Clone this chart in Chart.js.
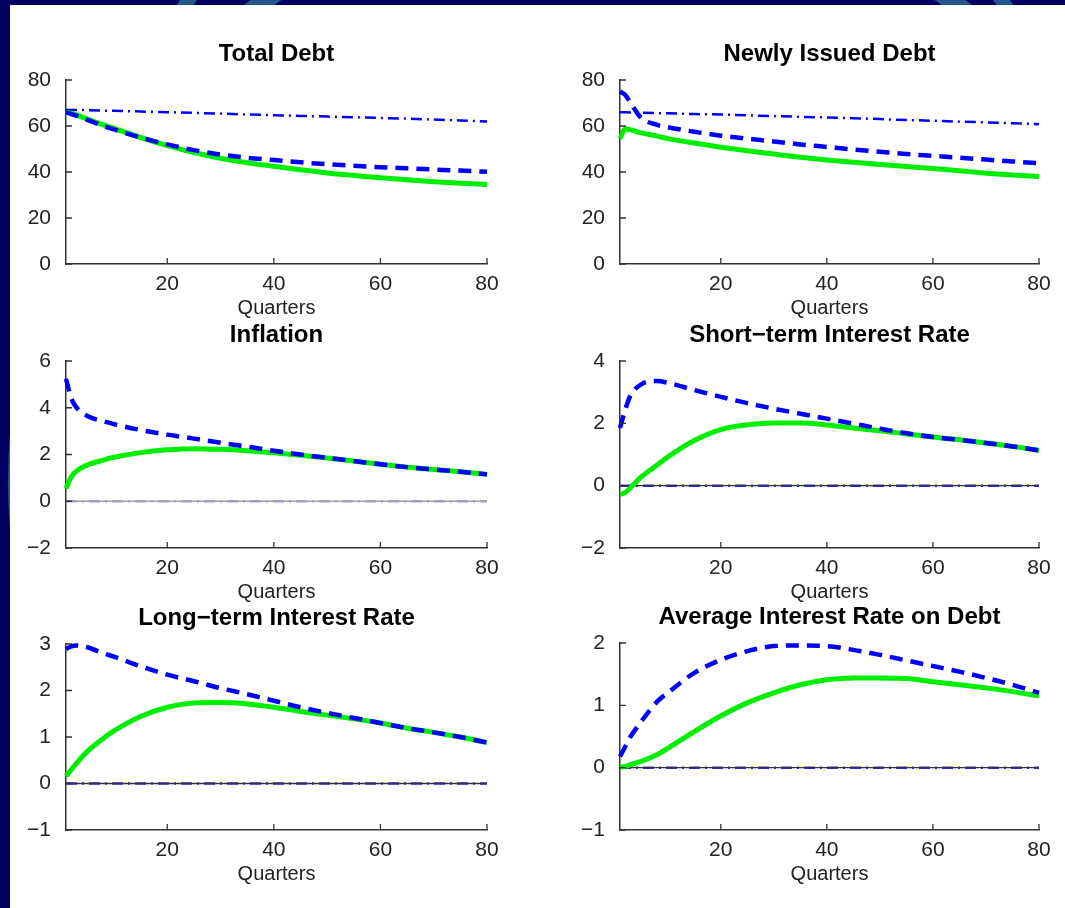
<!DOCTYPE html>
<html><head><meta charset="utf-8">
<script src="https://cdn.jsdelivr.net/npm/chart.js@4.4.1/dist/chart.umd.min.js"></script>
<style>
html,body{margin:0;padding:0;overflow:hidden;}
body{width:1065px;height:908px;background:#000060;position:relative;}
.arc{position:absolute;border-radius:50%;border:18px solid #24558f;box-sizing:border-box;}
#paper{position:absolute;left:10px;top:5px;width:1055px;height:903px;background:#fff;}
canvas{position:absolute;}
</style></head><body>
<div class="arc" style="left:8px;top:-118px;width:1200px;height:1200px;"></div>
<div class="arc" style="left:95px;top:-221px;width:1000px;height:1000px;border-width:14px;"></div>
<div id="paper"></div>
<script>
// ---------- data ----------
const quarters = [1,2,3,5,8,10,15,20,25,30,35,40,45,50,55,60,65,70,75,80];
const xTickLabels = [20,40,60,80];
const baselineZero = [0,0,0,0,0,0,0,0,0,0,0,0,0,0,0,0,0,0,0,0];

const totalDebtTicks = [0,20,40,60,80];
const totalDebtGreen = [66,65.5,64.8,63,60.5,59,55,51.5,48.5,46,44,42.5,41,39.6,38.5,37.5,36.6,35.8,35.1,34.6];
const totalDebtDashed = [66,65.2,64.4,62.7,60,58.5,55,52,49.5,47.6,46.2,45.2,44.2,43.4,42.7,42.1,41.6,41.1,40.6,40.1];
const totalDebtDashDot = [67,67,67,66.9,66.7,66.6,66.3,66,65.7,65.4,65,64.7,64.4,64.1,63.8,63.5,63.2,62.8,62.4,62];

const newDebtTicks = [0,20,40,60,80];
const newDebtGreen = [54.5,58.8,58.3,57,55.6,54.5,52.6,50.8,49.2,47.8,46.4,45.2,44.2,43.3,42.4,41.5,40.5,39.5,38.7,38];
const newDebtDashed = [75,73.5,70,63.5,60.5,59.5,57.5,55.8,54.5,53.3,52,50.9,49.8,48.8,47.8,47,46.2,45.4,44.6,43.8];
const newDebtDashDot = [66,66,65.9,65.8,65.6,65.5,65.2,65,64.6,64.3,64,63.7,63.4,63,62.6,62.3,61.9,61.6,61.2,60.8];

const inflationTicks = [-2,0,2,4,6];
const inflationGreen = [0.55,1.05,1.3,1.55,1.76,1.88,2.08,2.2,2.25,2.22,2.16,2.07,1.97,1.85,1.72,1.58,1.46,1.36,1.26,1.15];
const inflationDashed = [5.24,4.4,4.0,3.65,3.42,3.3,3.05,2.85,2.68,2.5,2.34,2.16,2.0,1.86,1.72,1.58,1.46,1.36,1.26,1.15];

const shortRateTicks = [-2,0,2,4];
const shortRateGreen = [-0.28,-0.22,-0.06,0.28,0.66,0.92,1.45,1.8,1.95,2.01,2.01,1.95,1.85,1.76,1.66,1.56,1.47,1.37,1.26,1.13];
const shortRateDashed = [1.85,2.45,2.9,3.25,3.36,3.3,3.07,2.85,2.65,2.47,2.31,2.15,1.99,1.83,1.68,1.56,1.47,1.37,1.26,1.13];

const longRateTicks = [-1,0,1,2,3];
const longRateGreen = [0.16,0.3,0.44,0.69,0.97,1.13,1.44,1.64,1.73,1.74,1.71,1.64,1.55,1.47,1.39,1.3,1.19,1.1,1.0,0.88];
const longRateDashed = [2.89,2.95,2.97,2.93,2.8,2.73,2.52,2.34,2.2,2.05,1.92,1.78,1.64,1.52,1.41,1.3,1.19,1.1,1.0,0.88];

const avgRateTicks = [-1,0,1,2];
const avgRateGreen = [0.01,0.02,0.05,0.1,0.21,0.31,0.58,0.83,1.04,1.2,1.33,1.41,1.44,1.44,1.43,1.38,1.33,1.28,1.22,1.15];
const avgRateDashed = [0.18,0.34,0.5,0.74,1.06,1.2,1.52,1.73,1.87,1.95,1.96,1.95,1.89,1.81,1.72,1.63,1.54,1.44,1.33,1.2];

// ---------- helpers ----------
const FONT = '"Liberation Sans", Arial, Helvetica, sans-serif';
const pts = ys => quarters.map((q,i)=>({x:q,y:ys[i]}));
const green = ys => ({data:pts(ys),borderColor:'#00ee00',borderWidth:5,order:2});
const dashed = ys => ({data:pts(ys),borderColor:'#0000ff',borderWidth:4.5,borderDash:[13,8],order:1});
const dashDot = (ys,col,w) => ({data:pts(ys),borderColor:col,borderWidth:w,borderDash:[11,5,2,5],order:4,cubicInterpolationMode:'default',tension:0});
const zeroLine = (col) => ({data:pts(baselineZero),borderColor:col,borderWidth:1.3,order:3,tension:0,cubicInterpolationMode:'default'});

const panels = [
  {title:'Total Debt', yTicks:totalDebtTicks, L:66,R:487,T:80,B:264,
   datasets:[green(totalDebtGreen),dashed(totalDebtDashed),dashDot(totalDebtDashDot,'#0000ff',2.5)]},
  {title:'Newly Issued Debt', yTicks:newDebtTicks, L:620,R:1039,T:80,B:264,
   datasets:[green(newDebtGreen),dashed(newDebtDashed),dashDot(newDebtDashDot,'#0000ff',2.5)]},
  {title:'Inflation', yTicks:inflationTicks, L:66,R:487,T:361,B:548,
   datasets:[green(inflationGreen),dashed(inflationDashed),dashDot(baselineZero,'rgba(90,90,255,0.6)',2.5),zeroLine('#a0a0a0')]},
  {title:'Short\u2212term Interest Rate', yTicks:shortRateTicks, L:620,R:1039,T:361,B:548,
   datasets:[green(shortRateGreen),dashed(shortRateDashed),dashDot(baselineZero,'#2a2aff',2.5),zeroLine('#333')]},
  {title:'Long\u2212term Interest Rate', yTicks:longRateTicks, L:66,R:487,T:644,B:830,
   datasets:[green(longRateGreen),dashed(longRateDashed),dashDot(baselineZero,'#2a2aff',2.5),zeroLine('#333')]},
  {title:'Average Interest Rate on Debt', yTicks:avgRateTicks, L:620,R:1039,T:643,B:830,
   datasets:[green(avgRateGreen),dashed(avgRateDashed),dashDot(baselineZero,'#2a2aff',2.5),zeroLine('#333')]}
];

const inwardTicks = {
  id:'inwardTicks',
  afterDatasetsDraw(chart){
    const {ctx, chartArea:a, scales:{x,y}} = chart;
    ctx.save();
    ctx.strokeStyle='#333'; ctx.lineWidth=1.3;
    ctx.beginPath();
    x.ticks.forEach(t=>{const px=x.getPixelForValue(t.value); ctx.moveTo(px,a.bottom); ctx.lineTo(px,a.bottom-6);});
    y.ticks.forEach(t=>{const py=y.getPixelForValue(t.value); ctx.moveTo(a.left,py); ctx.lineTo(a.left+6,py);});
    ctx.stroke();
    ctx.restore();
  }
};

const fmt = v => v<0 ? '\u2212'+Math.abs(v) : String(v);

panels.forEach(p=>{
  const padL=56, padR=56, padT=56, padB=58;
  const w = p.R-p.L+padL+padR, h = p.B-p.T+padT+padB;
  const c = document.createElement('canvas');
  c.width=w; c.height=h;
  c.style.left=(p.L-padL)+'px'; c.style.top=(p.T-padT)+'px';
  c.style.width=w+'px'; c.style.height=h+'px';
  document.body.appendChild(c);
  p.datasets.forEach(d=>{d.pointRadius=0; d.fill=false; d.clip=false; if(!d.cubicInterpolationMode) d.cubicInterpolationMode='monotone';});
  new Chart(c,{
    type:'line',
    data:{datasets:p.datasets},
    options:{
      responsive:false, animation:false, devicePixelRatio:1,
      layout:{padding:0},
      plugins:{
        legend:{display:false}, tooltip:{enabled:false},
        title:{display:true,text:p.title,color:'#000',
          font:{family:FONT,size:24,weight:'bold',lineHeight:1.2},
          padding:{top:15.6,bottom:11.6}}
      },
      scales:{
        x:{type:'linear',min:1,max:80,position:'bottom',
          afterBuildTicks:s=>{s.ticks=xTickLabels.map(v=>({value:v}));},
          afterFit:s=>{s.height=padB;},
          grid:{display:false}, border:{display:true,color:'#333',width:1.5},
          ticks:{font:{family:FONT,size:21},color:'#222',padding:0,maxRotation:0,autoSkip:false,callback:fmt},
          title:{display:true,text:'Quarters',color:'#222',font:{family:FONT,size:20,lineHeight:1.2},padding:{top:0,bottom:2}}},
        y:{type:'linear',min:p.yTicks[0],max:p.yTicks[p.yTicks.length-1],position:'left',
          afterBuildTicks:s=>{s.ticks=p.yTicks.map(v=>({value:v}));},
          afterFit:s=>{s.width=padL;},
          grid:{display:false}, border:{display:true,color:'#333',width:1.5},
          ticks:{font:{family:FONT,size:21},color:'#222',padding:7,callback:fmt}},
        yRight:{type:'linear',position:'right',display:true,
          afterFit:s=>{s.width=padR;},
          grid:{display:false}, border:{display:false}, ticks:{display:false}}
      }
    },
    plugins:[inwardTicks]
  });
});
</script>
</body></html>
